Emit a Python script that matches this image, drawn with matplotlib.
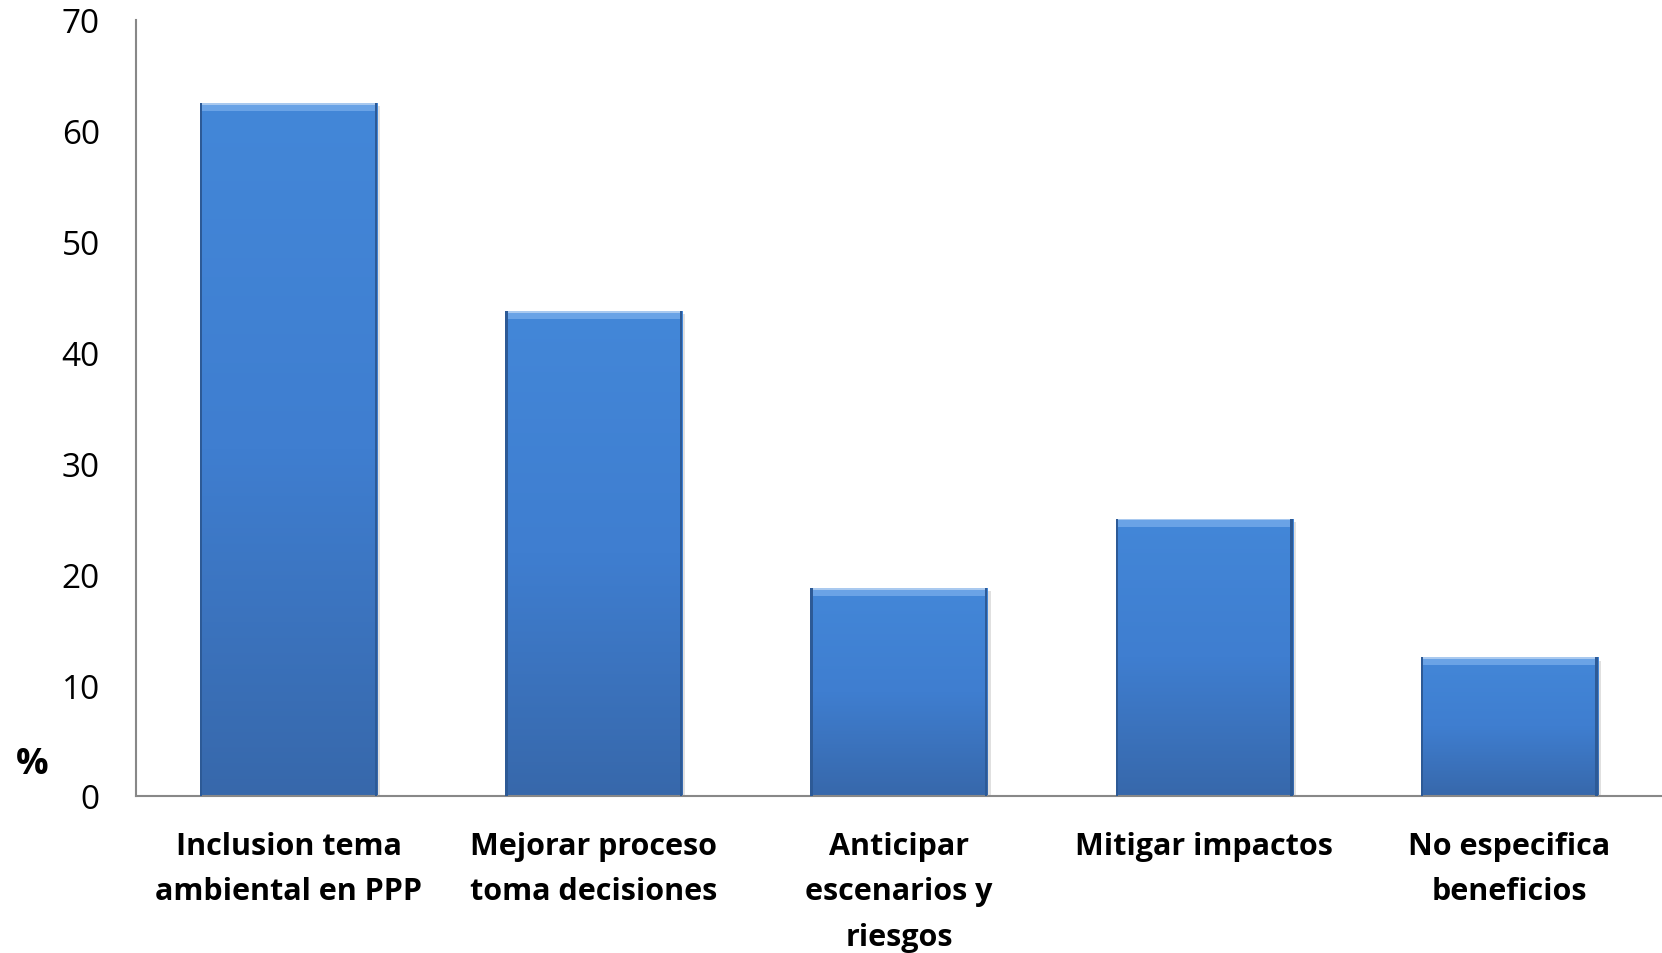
import numpy as np
import matplotlib
matplotlib.use("Agg")
import matplotlib.pyplot as plt
from matplotlib.patches import Rectangle
from matplotlib.colors import LinearSegmentedColormap

categories = ["Inclusion tema\nambiental en PPP", "Mejorar proceso\ntoma decisiones",
              "Anticipar\nescenarios y\nriesgos", "Mitigar impactos",
              "No especifica\nbeneficios"]
values = [62.5, 43.75, 18.75, 25.0, 12.5]
yticks = [0, 10, 20, 30, 40, 50, 60, 70]

plt.rcParams['font.family'] = ['Open Sans', 'DejaVu Sans']

fig = plt.figure(figsize=(16.62, 9.54), dpi=100)
ax = fig.add_axes([0.0818, 0.1646, 0.9182, 0.8134])

x = np.arange(len(categories))
w = 0.58
bars = ax.bar(x, values, width=w, color='#3a74c0', zorder=2)

# vertical gradient inside each bar, light top to darker bottom
grad = np.linspace(0, 1, 256).reshape(-1, 1)
cmap = LinearSegmentedColormap.from_list('bar', ['#4387d8', '#3f7ed0', '#3768ab'])
for b in bars:
    x0, w0, h0 = b.get_x(), b.get_width(), b.get_height()
    # soft shadow
    ax.add_patch(Rectangle((x0 + 0.01, -0.6), w0, h0 + 0.3, color='#000000',
                           alpha=0.12, zorder=1, lw=0))
    im = ax.imshow(grad, cmap=cmap, aspect='auto', extent=(x0, x0 + w0, 0, h0),
                   origin='upper', zorder=2.5)
    im.set_clip_path(b)
    # bevel at the top
    ax.add_patch(Rectangle((x0, h0 - 0.7), w0, 0.7, color='#6aa3e6', zorder=3, lw=0))
    ax.add_patch(Rectangle((x0, h0 - 0.15), w0, 0.15, color='#a9c9ef', zorder=3, lw=0))
    # darker side edges
    ax.add_patch(Rectangle((x0, 0), 0.008, h0, color='#2d5a96', zorder=3, lw=0))
    ax.add_patch(Rectangle((x0 + w0 - 0.008, 0), 0.008, h0, color='#2d5a96', zorder=3, lw=0))

ax.set_xlim(-0.5, len(categories) - 0.5)
ax.set_ylim(0, 70)
ax.set_yticks(yticks)
ax.set_xticks(x)
ax.set_xticklabels(categories, fontsize=22, fontweight='bold', linespacing=1.68,
                   va='top')
ax.tick_params(axis='y', length=0, pad=26, labelsize=24)
ax.tick_params(axis='x', length=0, pad=25)

for s in ['top', 'right']:
    ax.spines[s].set_visible(False)
for s in ['left', 'bottom']:
    ax.spines[s].set_color('#888888')
    ax.spines[s].set_linewidth(1.5)

ax.set_ylabel('%', fontsize=26, fontweight='bold', rotation=0)
ax.yaxis.set_label_coords(-0.068, 0.018)

fig.savefig('out.png', dpi=100)
